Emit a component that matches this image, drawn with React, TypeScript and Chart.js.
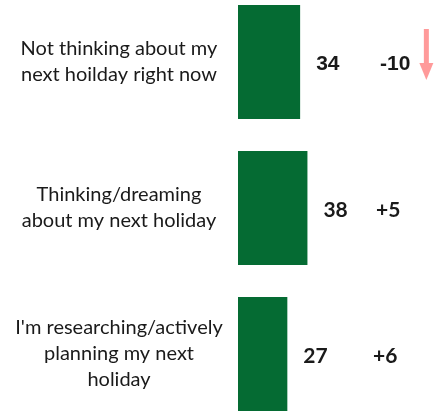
import React, { useEffect, useRef } from "react";
import { Chart, registerables } from "chart.js";

Chart.register(...registerables);

const categories: string[][] = [
  ["Not thinking about my", "next hoilday right now"],
  ["Thinking/dreaming", "about my next holiday"],
  ["I'm researching/actively", "planning my next", "holiday"],
];
const values: number[] = [34, 38, 27];
const changes: string[] = ["-10", "+5", "+6"];
const changeDirections: string[] = ["down", "none", "none"];

const BAR_COLOR = "#056b33";
const ARROW_COLOR = "#ff9a9a";
const TEXT_COLOR = "#1a1a1a";
const LABEL_FONT = "20px Lato, sans-serif";
const LABEL_LINE_HEIGHT = 26;
const LABEL_CENTER_X = 119;
const VALUE_FONTS = [
  "bold 21px 'Liberation Sans', Arial, sans-serif",
  "bold 21px Lato, sans-serif",
  "bold 21px Lato, sans-serif",
];
const CHANGE_OFFSETS = [142, 138, 135];

const labelsPlugin = {
  id: "valueLabels",
  afterDatasetsDraw(chart: any) {
    const ctx = chart.ctx;
    const meta = chart.getDatasetMeta(0);
    const area = chart.chartArea;
    const yScale = chart.scales.y;
    ctx.save();
    // category labels
    ctx.font = LABEL_FONT;
    ctx.fillStyle = TEXT_COLOR;
    ctx.textAlign = "center";
    ctx.textBaseline = "middle";
    categories.forEach((lines, i) => {
      const cy = yScale.getPixelForTick(i);
      lines.forEach((line, j) => {
        ctx.fillText(line, LABEL_CENTER_X, cy + (j - (lines.length - 1) / 2) * LABEL_LINE_HEIGHT);
      });
    });
    meta.data.forEach((bar: any, i: number) => {
      const y = bar.y + 2;
      ctx.fillStyle = TEXT_COLOR;
      ctx.font = VALUE_FONTS[i];
      ctx.textAlign = "left";
      ctx.textBaseline = "middle";
      ctx.fillText(String(values[i]), bar.x + 16, y);
      const cx = area.left + CHANGE_OFFSETS[i];
      ctx.fillText(changes[i], cx, y);
      if (changeDirections[i] === "down") {
        const w = ctx.measureText(changes[i]).width;
        const ax = cx + w + 16;
        const top = bar.y - 33;
        const headTop = bar.y + 1;
        const tip = bar.y + 18;
        ctx.fillStyle = ARROW_COLOR;
        ctx.fillRect(ax - 2.5, top, 5, headTop - top);
        ctx.beginPath();
        ctx.moveTo(ax - 7, headTop);
        ctx.lineTo(ax + 7, headTop);
        ctx.lineTo(ax, tip);
        ctx.closePath();
        ctx.fill();
      }
    });
    ctx.restore();
  },
};

export default function App() {
  const ref = useRef<HTMLCanvasElement>(null);
  useEffect(() => {
    if (!ref.current) return;
    const chart = new Chart(ref.current, {
      type: "bar",
      data: {
        labels: categories.map((l) => l.join(" ")),
        datasets: [
          {
            data: values,
            backgroundColor: BAR_COLOR,
            borderWidth: 0,
            categoryPercentage: 0.78,
            barPercentage: 1,
          },
        ],
      },
      options: {
        indexAxis: "y",
        animation: false,
        responsive: true,
        maintainAspectRatio: false,
        layout: { padding: { top: 0, bottom: 0, left: 238, right: 0 } },
        plugins: {
          legend: { display: false },
          tooltip: { enabled: false },
        },
        scales: {
          x: { min: 0, max: 110, display: false },
          y: { display: false },
        },
      },
      plugins: [labelsPlugin],
    });
    return () => chart.destroy();
  }, []);
  return (
    <div style={{ position: "absolute", left: 0, top: -11, width: 439, height: 438 }}>
      <canvas ref={ref} />
    </div>
  );
}
